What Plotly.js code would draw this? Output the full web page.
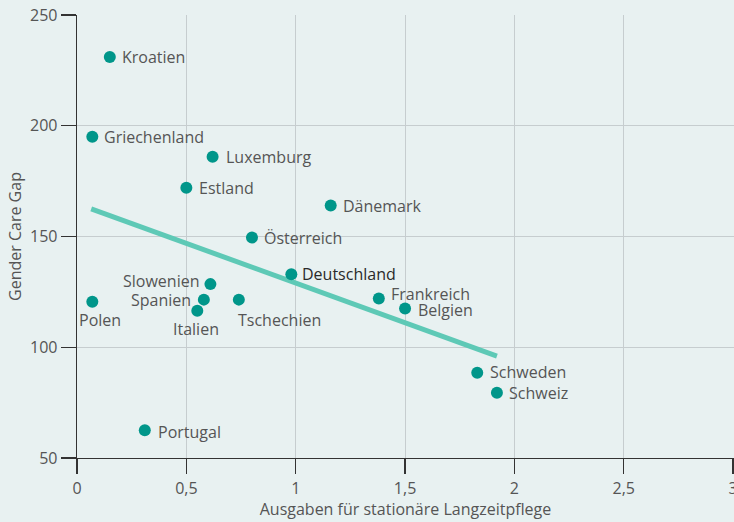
<!DOCTYPE html>
<html><head><meta charset="utf-8">
<script src="https://cdn.plot.ly/plotly-3.0.1.min.js"></script>
<style>html,body{margin:0;padding:0;background:#e8f1f1;}</style>
</head><body><div id="chart" style="width:734px;height:522px;"></div>
<script>
const countries = ["Kroatien","Griechenland","Luxemburg","Estland","Dänemark","Österreich","Deutschland","Slowenien","Spanien","Italien","Tschechien","Polen","Frankreich","Belgien","Schweden","Schweiz","Portugal"];
const spending = [0.15,0.07,0.62,0.50,1.16,0.80,0.98,0.61,0.58,0.55,0.74,0.07,1.38,1.50,1.83,1.92,0.31];
const careGap = [231,195,186,172,164,149.5,133,128.5,121.5,116.5,121.5,120.5,122,117.5,88.5,79.5,62.5];
const trendX = [0.065,1.92];
const trendY = [162.5,96];
const xTicks = [0,0.5,1,1.5,2,2.5,3];
const xTickText = ["0","0,5","1","1,5","2","2,5","3"];
const yTicks = [50,100,150,200,250];

// label placement (styling): anchor, x shift, y shift in px
const labelAnchor = ["left","left","left","left","left","left","left","right","right","center","left","center","left","left","left","left","left"];
const labelDx = [10,10,11,11,10,10,9,-9,-11,-1,-3,8,10,11,11,10,11];
const labelDy = [0,0,0,0,-1,0,0,3,0,-18,-20,-18,5,-2,1,0,-2];

const font16 = {family: "Open Sans, sans-serif", size: 16, color: "#555555"};

const annotations = countries.map((c, i) => ({
  x: spending[i], y: careGap[i], xref: "x", yref: "y", text: c, showarrow: false,
  xanchor: labelAnchor[i], yanchor: "middle", xshift: labelDx[i], yshift: labelDy[i],
  font: {family: "Open Sans, sans-serif", size: 16, color: c === "Deutschland" ? "#2a2a2a" : "#555555"}
}));

const data = [
  {x: trendX, y: trendY, mode: "lines", type: "scatter", line: {color: "#5ec9b6", width: 5}, hoverinfo: "skip"},
  {x: spending, y: careGap, mode: "markers", type: "scatter", marker: {color: "#00968a", size: 12}}
];
const layout = {
  width: 734, height: 522,
  margin: {l: 77, r: 0, t: 15, b: 64},
  paper_bgcolor: "#e8f1f1", plot_bgcolor: "#e8f1f1",
  showlegend: false,
  font: font16,
  annotations: annotations,
  xaxis: {range: [0,3.004], tickvals: xTicks, ticktext: xTickText, showgrid: true, gridcolor: "#c6cdcf", gridwidth: 1,
          zeroline: false, showline: true, linecolor: "#333333", linewidth: 1.3, ticklabeloverflow: "allow",
          ticks: "outside", ticklen: 15, tickcolor: "#333333", tickwidth: 1.3, tickfont: font16,
          title: {text: "Ausgaben für stationäre Langzeitpflege", font: font16, standoff: 6}},
  yaxis: {range: [50,250], tickvals: yTicks, showgrid: true, gridcolor: "#c6cdcf", gridwidth: 1,
          zeroline: false, showline: true, linecolor: "#333333", linewidth: 1.3,
          ticks: "outside", ticklen: 15, tickcolor: "#333333", tickwidth: 1.3, tickfont: font16,
          title: {text: "Gender Care Gap", font: font16, standoff: 4}}
};
Plotly.newPlot("chart", data, layout, {displayModeBar: false, staticPlot: true});
</script></body></html>
